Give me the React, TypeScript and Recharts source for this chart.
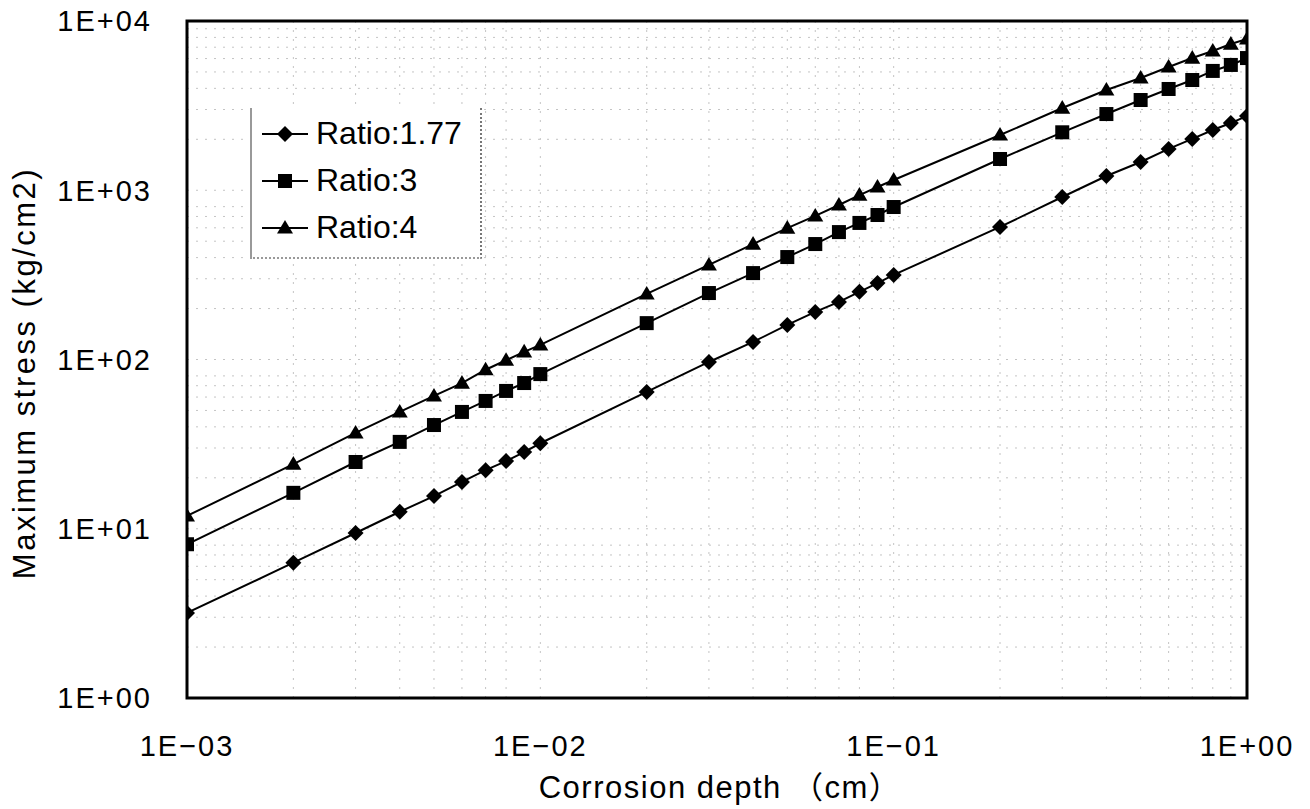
import {
  LineChart,
  Line,
  XAxis,
  YAxis,
  CartesianGrid,
  ReferenceArea,
} from "recharts";

const depth = [
  0.001, 0.002, 0.003, 0.004, 0.005, 0.006, 0.007, 0.008, 0.009, 0.01, 0.02,
  0.03, 0.04, 0.05, 0.06, 0.07, 0.08, 0.09, 0.1, 0.2, 0.3, 0.4, 0.5, 0.6, 0.7,
  0.8, 0.9, 1,
];

const ratio177 = [
  3.18, 6.3, 9.44, 12.6, 15.6, 18.9, 22.2, 25.1, 28.4, 32, 64.3, 96.7, 127,
  160, 191, 219, 251, 283, 316, 607, 912, 1214, 1469, 1754, 2010, 2270, 2495,
  2747,
];

const ratio3 = [
  8.1, 16.3, 24.8, 32.6, 41, 49, 56.9, 65.2, 72.6, 82, 164, 247, 324, 403, 481,
  566, 641, 714, 796, 1530, 2200, 2820, 3413, 3966, 4480, 5070, 5500, 6040,
];

const ratio4 = [
  11.9, 24.1, 36.8, 49, 60.9, 72.6, 87, 99, 111, 122, 244, 362, 481, 598, 705,
  818, 937, 1045, 1150, 2120, 3060, 3910, 4605, 5350, 6040, 6650, 7310, 7830,
];

const seriesNames = ["Ratio:1.77", "Ratio:3", "Ratio:4"];

const xTicks = [0.001, 0.01, 0.1, 1];
const xTickLabels = ["1E\u221203", "1E\u221202", "1E\u221201", "1E+00"];
const yTicks = [1, 10, 100, 1000, 10000];
const yTickLabels = ["1E+00", "1E+01", "1E+02", "1E+03", "1E+04"];

// faint dotted minor grid, like the scanned original
const xGrid = [
  0.002, 0.003, 0.004, 0.005, 0.006, 0.007, 0.008, 0.009, 0.01, 0.02, 0.03,
  0.04, 0.05, 0.06, 0.07, 0.08, 0.09, 0.1, 0.2, 0.3, 0.4, 0.5, 0.6, 0.7, 0.8,
  0.9,
];
const yGrid = [
  2, 3, 4, 5, 6, 7, 8, 9, 10, 20, 30, 40, 50, 60, 70, 80, 90, 100, 200, 300,
  400, 500, 600, 700, 800, 900, 1000, 2000, 3000, 4000, 5000, 6000, 7000, 8000,
  9000,
];

const data = depth.map((d, i) => ({
  depth: d,
  r177: ratio177[i],
  r3: ratio3[i],
  r4: ratio4[i],
}));

const FONT = "'Liberation Sans', Arial, 'Noto Sans CJK JP', sans-serif";

const Diamond = (props: any) => {
  const { cx, cy } = props;
  if (cx == null || cy == null) return null;
  const r = 8;
  return (
    <polygon
      points={`${cx},${cy - r} ${cx + r},${cy} ${cx},${cy + r} ${cx - r},${cy}`}
      fill="#000"
    />
  );
};

const Square = (props: any) => {
  const { cx, cy } = props;
  if (cx == null || cy == null) return null;
  const r = 7;
  return <rect x={cx - r} y={cy - r} width={r * 2} height={r * 2} fill="#000" />;
};

const Triangle = (props: any) => {
  const { cx, cy } = props;
  if (cx == null || cy == null) return null;
  const r = 8;
  return (
    <polygon
      points={`${cx},${cy - r} ${cx + r},${cy + r * 0.7} ${cx - r},${cy + r * 0.7}`}
      fill="#000"
    />
  );
};

const markers = [Diamond, Square, Triangle];

const LegendBox = () => (
  <div
    style={{
      position: "absolute",
      left: 250,
      top: 108,
      width: 208,
      borderLeft: "2px solid #999",
      borderRight: "2px dotted #777",
      borderBottom: "2px dotted #999",
      padding: "2px 12px 6px 8px",
      fontFamily: FONT,
      fontSize: 32,
      lineHeight: "47px",
      color: "#000",
      background: "#fff",
    }}
  >
    {seriesNames.map((name, i) => {
      const M = markers[i];
      return (
        <div key={name} style={{ display: "flex", alignItems: "center" }}>
          <svg width={50} height={20} style={{ marginRight: 6 }}>
            <line x1={2} y1={10} x2={48} y2={10} stroke="#000" strokeWidth={2} />
            <M cx={25} cy={10} />
          </svg>
          <span>{name}</span>
        </div>
      );
    })}
  </div>
);

export default function App() {
  const tickStyle = {
    fontSize: 29,
    fill: "#000",
    fontFamily: FONT,
    letterSpacing: 2,
  };
  return (
    <div
      style={{
        position: "absolute",
        left: 0,
        top: 0,
        width: 1310,
        height: 809,
        background: "#fff",
      }}
    >
      <LineChart
        width={1310}
        height={809}
        data={data}
        margin={{ top: 21, right: 63, bottom: 0, left: 0 }}
      >
        <CartesianGrid
          stroke="#c4c4c4"
          strokeDasharray="2 7"
          horizontalValues={yGrid}
          verticalValues={xGrid}
        />
        <XAxis
          dataKey="depth"
          type="number"
          scale="log"
          domain={[0.001, 1]}
          ticks={xTicks}
          tickFormatter={(v: number) => xTickLabels[xTicks.indexOf(v)] ?? ""}
          height={111}
          axisLine={false}
          tickLine={false}
          tickSize={0}
          tickMargin={37}
          tick={tickStyle}
          allowDataOverflow
        />
        <YAxis
          type="number"
          scale="log"
          domain={[1, 10000]}
          ticks={yTicks}
          tickFormatter={(v: number) => yTickLabels[yTicks.indexOf(v)] ?? ""}
          width={187}
          axisLine={false}
          tickLine={false}
          tickSize={0}
          tickMargin={35}
          tick={tickStyle}
          allowDataOverflow
        />
        <ReferenceArea
          x1={0.001}
          x2={1}
          y1={1}
          y2={10000}
          fill="none"
          stroke="#000"
          strokeWidth={3}
        />
        <Line
          dataKey="r177"
          name={seriesNames[0]}
          stroke="#000"
          strokeWidth={2}
          dot={<Diamond />}
          activeDot={false}
          isAnimationActive={false}
        />
        <Line
          dataKey="r3"
          name={seriesNames[1]}
          stroke="#000"
          strokeWidth={2}
          dot={<Square />}
          activeDot={false}
          isAnimationActive={false}
        />
        <Line
          dataKey="r4"
          name={seriesNames[2]}
          stroke="#000"
          strokeWidth={2}
          dot={<Triangle />}
          activeDot={false}
          isAnimationActive={false}
        />
      </LineChart>
      <LegendBox />
      <div
        style={{
          position: "absolute",
          left: 0,
          top: 762,
          width: 1440,
          textAlign: "center",
          fontFamily: FONT,
          fontSize: 31,
          letterSpacing: 1.5,
          color: "#000",
          whiteSpace: "nowrap",
        }}
      >
        Corrosion depth （cm）
      </div>
      <div
        style={{
          position: "absolute",
          left: 25,
          top: 373,
          transform: "translate(-50%, -50%) rotate(-90deg)",
          fontFamily: FONT,
          fontSize: 31,
          lineHeight: "34px",
          letterSpacing: 2.5,
          color: "#000",
          whiteSpace: "nowrap",
        }}
      >
        Maximum stress (kg/cm2)
      </div>
    </div>
  );
}
